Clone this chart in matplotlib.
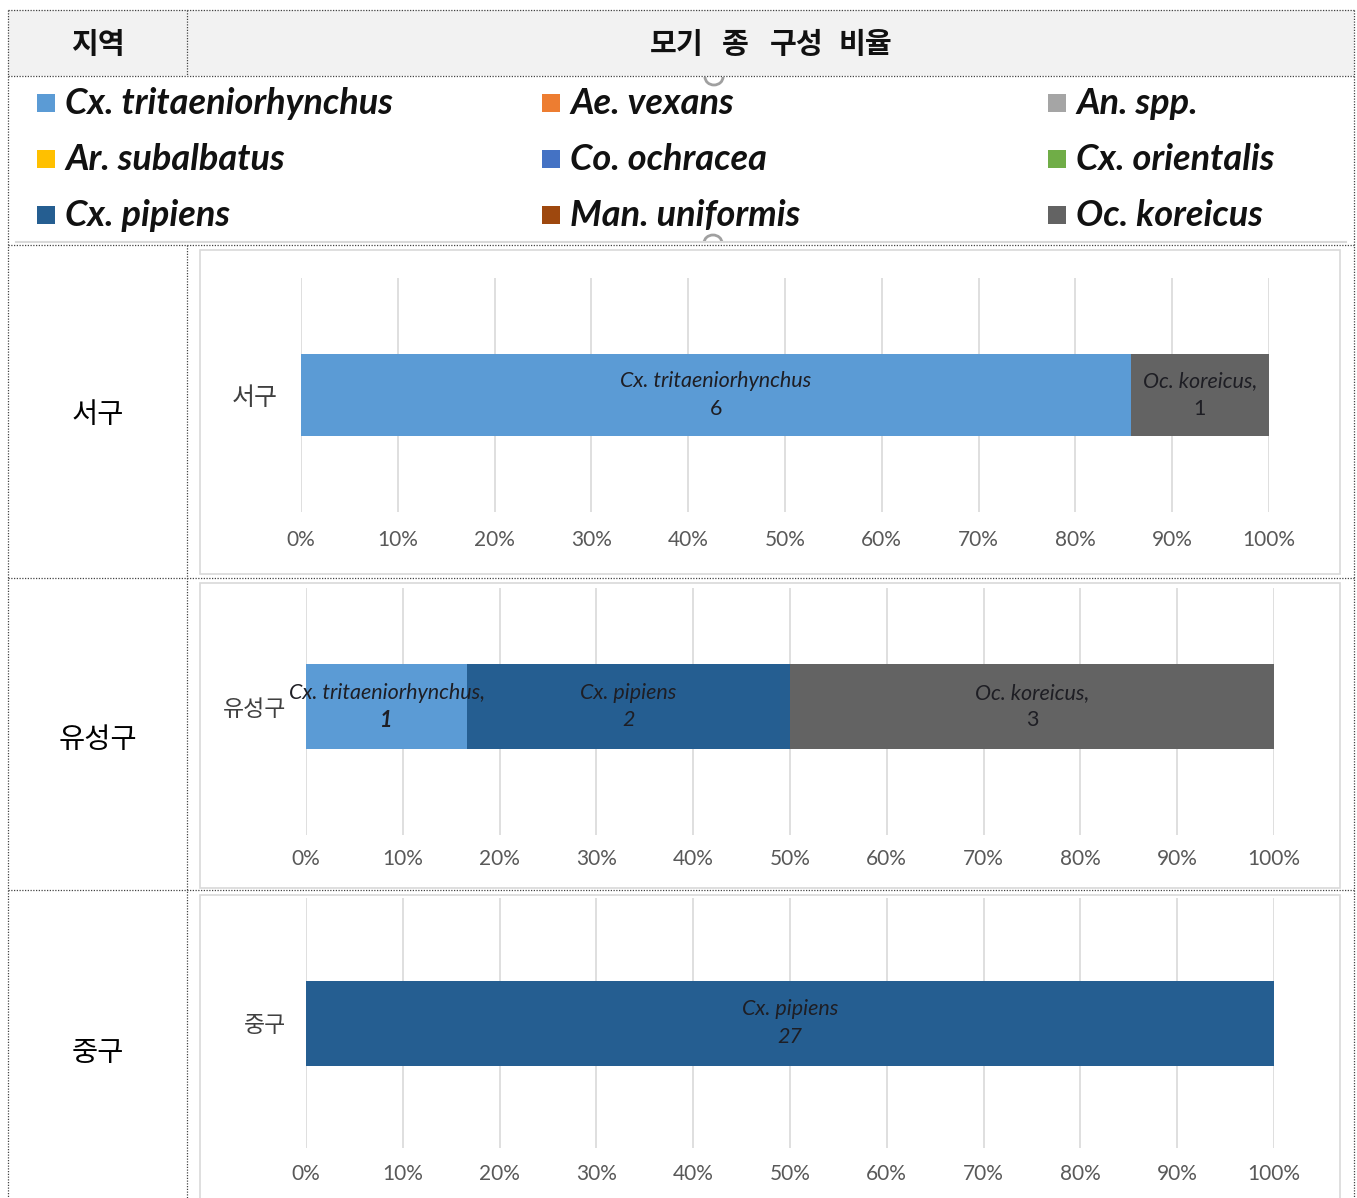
import matplotlib
matplotlib.use("Agg")
import matplotlib.pyplot as plt
from matplotlib.patches import Rectangle, Arc

plt.rcParams['font.family'] = ['Noto Sans CJK KR', 'DejaVu Sans']

W, H = 1357, 1198
DPI = 100

# ---- data ----
species = ["Cx. tritaeniorhynchus", "Ae. vexans", "An. spp.",
           "Ar. subalbatus", "Co. ochracea", "Cx. orientalis",
           "Cx. pipiens", "Man. uniformis", "Oc. koreicus"]
species_colors = ["#5B9BD5", "#ED7D31", "#A5A5A5",
                  "#FFC000", "#4472C4", "#70AD47",
                  "#255E91", "#9E480E", "#636363"]

regions = ["서구", "유성구", "중구"]
# counts per region, in stacking order
seogu_species = ["Cx. tritaeniorhynchus", "Oc. koreicus"]
seogu_counts = [6, 1]
yuseong_species = ["Cx. tritaeniorhynchus", "Cx. pipiens", "Oc. koreicus"]
yuseong_counts = [1, 2, 3]
junggu_species = ["Cx. pipiens"]
junggu_counts = [27]

# data-label names as printed on each bar
seogu_labels = ["Cx. tritaeniorhynchus", "Oc. koreicus,"]
yuseong_labels = ["Cx. tritaeniorhynchus,", "Cx. pipiens", "Oc. koreicus,"]
junggu_labels = ["Cx. pipiens"]

tick_values = [0, 0.1, 0.2, 0.3, 0.4, 0.5, 0.6, 0.7, 0.8, 0.9, 1.0]
tick_labels = ["0%", "10%", "20%", "30%", "40%", "50%",
               "60%", "70%", "80%", "90%", "100%"]

header_left = "지역"
header_right = "모기 종 구성 비율"

color_of = dict(zip(species, species_colors))
LATIN = ["Lato", "DejaVu Sans"]

fig = plt.figure(figsize=(W / DPI, H / DPI), dpi=DPI)
fig.patch.set_facecolor("white")

# overlay in pixel coordinates for the table frame
base = fig.add_axes([0, 0, 1, 1], zorder=0)
base.set_xlim(0, W)
base.set_ylim(H, 0)
base.axis("off")

LEFT, RIGHT, TOP = 8, 1354, 10
COL = 187
dot = dict(color="#444444", lw=0.9, linestyle=(0, (1, 1.2)))

base.add_patch(Rectangle((LEFT, TOP), RIGHT - LEFT, 76 - TOP,
                         facecolor="#F2F2F2", edgecolor="none"))
for y in [TOP, 76, 245, 578, 890]:
    base.plot([LEFT, RIGHT], [y, y], **dot)
base.plot([LEFT, LEFT], [TOP, H], **dot)
base.plot([RIGHT, RIGHT], [TOP, H], **dot)
base.plot([COL, COL], [TOP, 76], **dot)
base.plot([COL, COL], [245, H], **dot)

base.text((LEFT + COL) / 2, 44, header_left, ha="center", va="center",
          fontsize=21, fontweight="bold", color="#111111")

# column title, drawn word by word with wide tracking
words = header_right.split(" ")
word_x = [677, 735, 797, 865]
for w_, x_ in zip(words, word_x):
    base.text(x_, 44, w_, ha="center", va="center", fontsize=21,
              fontweight="bold", color="#111111")

# legend block
base.plot([16, 1346], [242, 242], color="#D9D9D9", lw=1.5)
leg_x = [37, 542, 1048]
leg_y = [103, 159, 215]
for i, (name, c) in enumerate(zip(species, species_colors)):
    r, k = divmod(i, 3)
    x, y = leg_x[k], leg_y[r]
    base.add_patch(Rectangle((x, y - 9), 18, 18, facecolor=c, edgecolor="none"))
    base.text(x + 28, y + 1, name, ha="left", va="center", fontsize=26,
              fontweight="bold", fontstyle="italic", family=LATIN,
              color="#111111")

# selection handles of the legend object
base.add_patch(Arc((714, 77), 18, 16, theta1=0, theta2=180,
                   color="#A0A0A0", lw=2))
base.add_patch(Arc((713, 243), 18, 16, theta1=180, theta2=360,
                   color="#A0A0A0", lw=2))

# region names in the first column
for name, yc in zip(regions, [415, 740, 1053]):
    base.text((LEFT + COL) / 2, yc, name, ha="center", va="center",
              fontsize=20.5, color="black")

# chart frames
for y0, y1 in [(250, 574), (583, 888), (895, 1210)]:
    base.add_patch(Rectangle((200, y0), 1140, y1 - y0, facecolor="white",
                             edgecolor="#D9D9D9", lw=1.2))


def px_axes(x0, x1, y0, y1):
    return fig.add_axes([x0 / W, 1 - y1 / H, (x1 - x0) / W, (y1 - y0) / H],
                        zorder=2)


def draw_chart(ax, region, sp, counts, labels, value_styles, bar_h, ycen,
               cat_size, cat_pad, tick_pad):
    total = float(sum(counts))
    left = 0.0
    for s, c, lab, vs in zip(sp, counts, labels, value_styles):
        frac = c / total
        ax.barh(0, frac, left=left, height=bar_h, color=color_of[s],
                edgecolor="none", zorder=3)
        xc = left + frac / 2
        ax.annotate(lab, (xc, 0), xytext=(0, 10), textcoords="offset points",
                    ha="center", va="center", fontsize=15.5, fontstyle="italic",
                    color="#1E1E24", family=LATIN, zorder=4)
        ax.annotate(str(c), (xc, 0), xytext=(0, -10), textcoords="offset points",
                    ha="center", va="center", fontsize=15.5,
                    fontstyle=vs[0], fontweight=vs[1],
                    color="#1E1E24", family=LATIN, zorder=4)
        left += frac
    ax.set_xlim(0, 1)
    ax.set_ylim(-0.5 - ycen, 0.5 - ycen)
    ax.set_xticks(tick_values)
    ax.set_xticklabels(tick_labels, family=LATIN, fontsize=15, color="#595959")
    ax.set_yticks([0])
    ax.set_yticklabels([region], fontsize=cat_size, color="#404040")
    ax.tick_params(axis="x", length=0, pad=tick_pad)
    ax.tick_params(axis="y", length=0, pad=cat_pad)
    ax.grid(axis="x", color="#D9D9D9", lw=1.2, zorder=0)
    ax.set_axisbelow(True)
    for sp_ in ax.spines.values():
        sp_.set_visible(False)
    ax.patch.set_alpha(0)


ax1 = px_axes(301, 1269, 278, 512)
draw_chart(ax1, regions[0], seogu_species, seogu_counts, seogu_labels,
           [("normal", "normal"), ("normal", "normal")],
           0.35, 0.0, 18, 17, 13)
ax2 = px_axes(306, 1274, 588, 835)
draw_chart(ax2, regions[1], yuseong_species, yuseong_counts, yuseong_labels,
           [("italic", "bold"), ("italic", "normal"), ("normal", "normal")],
           0.344, 0.02, 16.5, 14, 10)
ax3 = px_axes(306, 1274, 898, 1148)
draw_chart(ax3, regions[2], junggu_species, junggu_counts, junggu_labels,
           [("italic", "normal")],
           0.34, 0.0, 16.5, 14, 11.5)

fig.savefig("out.png", dpi=DPI)
